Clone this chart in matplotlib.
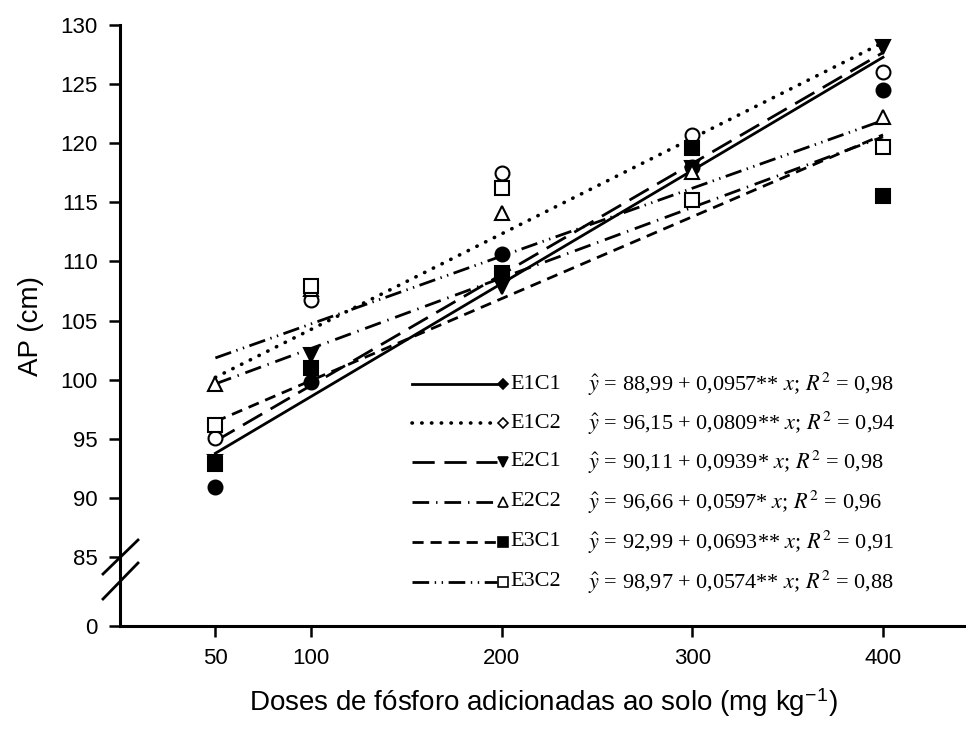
import numpy as np
import matplotlib
matplotlib.use("Agg")
import matplotlib.pyplot as plt
from matplotlib.lines import Line2D

plt.rcParams['font.family'] = ['Liberation Sans', 'DejaVu Sans']
plt.rcParams['mathtext.fontset'] = 'stix'

# doses de P (mg/kg) e altura de planta (cm)
doses = [50, 100, 200, 300, 400]
e1c1 = [90.9, 99.8, 110.6, 118.0, 124.5]
e1c2 = [95.1, 106.7, 117.5, 120.7, 126.0]
e2c1 = [93.0, 102.1, 107.8, 117.9, 128.1]
e2c2 = [99.6, 107.7, 114.1, 117.6, 122.2]
e3c1 = [92.9, 101.0, 109.0, 119.6, 115.5]
e3c2 = [96.2, 107.9, 116.2, 115.2, 119.7]

# coeficientes das regressoes (intercepto, inclinacao)
b0 = [88.99, 96.15, 90.11, 96.66, 92.99, 98.97]
b1 = [0.0957, 0.0809, 0.0939, 0.0597, 0.0693, 0.0574]
signif = ['**', '**', '*', '*', '**', '**']
r2 = [0.98, 0.94, 0.98, 0.96, 0.91, 0.88]
nomes = ['E1C1', 'E1C2', 'E2C1', 'E2C2', 'E3C1', 'E3C2']

series = [e1c1, e1c2, e2c1, e2c2, e3c1, e3c2]
markers = ['o', 'o', 'v', '^', 's', 's']
faces = ['k', 'w', 'k', 'w', 'k', 'w']
leg_markers = ['D', 'D', 'v', '^', 's', 's']
leg_ms = [5, 5, 7, 7, 7, 7]
dashes = ['-', (0, (0.1, 2.6)), (0, (8, 3.5)), (0, (6, 2.5, 0.5, 2.5)),
          (0, (4, 2.5)), (0, (6, 2, 0.5, 2, 0.5, 2))]
widths = [2, 2.6, 2, 2, 2, 2]

W, H = 966, 729
fig = plt.figure(figsize=(W / 100, H / 100), dpi=100)
ax = fig.add_axes([120 / W, 1 - 626 / H, 1 - 120 / W, (626 - 25) / H])

y_zero = 85 - 69 / 11.83   # posicao do "0" abaixo da quebra

xx = np.array([50, 400])
for i in range(6):
    yy = b0[i] + b1[i] * xx
    ax.plot(xx, yy, color='k', lw=widths[i], linestyle=dashes[i],
            dash_capstyle='round' if i == 1 else 'butt', zorder=2)

for i in range(6):
    ax.plot(doses, series[i], linestyle='none', marker=markers[i],
            ms=10, mfc=faces[i], mec='k', mew=1.5, zorder=3)

ax.set_xlim(0, 443.5)
ax.set_ylim(y_zero, 130)
ax.set_xticks(doses)
ax.set_xticklabels([str(d) for d in doses])
yt = [y_zero] + list(range(85, 131, 5))
ax.set_yticks(yt)
ax.set_yticklabels(['0'] + [str(v) for v in range(85, 131, 5)])
ax.tick_params(direction='out', length=8, width=1.8, labelsize=16, pad=8)
ax.spines['top'].set_visible(False)
ax.spines['right'].set_visible(False)
ax.spines['left'].set_linewidth(2.2)
ax.spines['bottom'].set_linewidth(2.2)

ax.set_xlabel('Doses de fósforo adicionadas ao solo (mg kg$^{\\mathregular{-1}}$)',
              fontsize=20, labelpad=12)
ax.set_ylabel('AP (cm)', fontsize=20, labelpad=12)

# marcas de quebra do eixo y
for y1, y2 in [(574, 540), (599, 563)]:
    fig.add_artist(Line2D([103 / W, 138 / W], [1 - y1 / H, 1 - y2 / H],
                          color='k', lw=2, transform=fig.transFigure))

# legenda com as equacoes
row_y = [384, 423, 462, 502, 542, 582]
for i in range(6):
    fy = 1 - row_y[i] / H
    fig.add_artist(Line2D([412 / W, 497 / W], [fy, fy], color='k',
                          lw=widths[i], linestyle=dashes[i],
                          dash_capstyle='round' if i == 1 else 'butt',
                          transform=fig.transFigure))
    fig.add_artist(Line2D([503 / W], [fy], marker=leg_markers[i], ms=leg_ms[i],
                          mfc=faces[i], mec='k', mew=1.2, linestyle='none',
                          transform=fig.transFigure))
    fig.text(510 / W, fy, nomes[i], family='Liberation Serif', fontsize=16,
             va='center')
    eq = (r'$\hat{y}$ = ' + f'{b0[i]:.2f}'.replace('.', ',') + ' + '
          + f'{b1[i]:.4f}'.replace('.', ',') + signif[i] + r' $x$; $R^2$ = '
          + f'{r2[i]:.2f}'.replace('.', ','))
    fig.text(588 / W, fy, eq, family='Liberation Serif', fontsize=16,
             va='center')

fig.savefig('out.png', dpi=100)
